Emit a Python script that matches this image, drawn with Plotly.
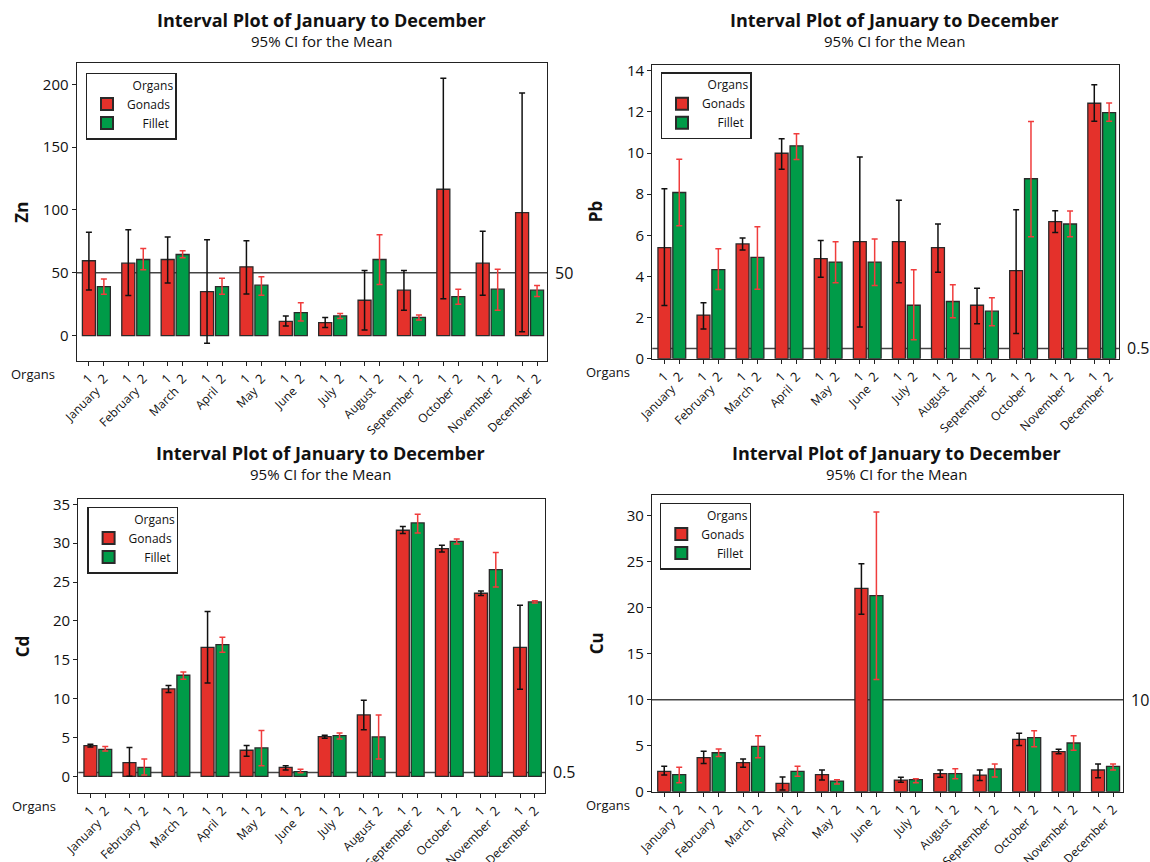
import plotly.graph_objects as go

# ---- data -----------------------------------------------------------------
months = ["January", "February", "March", "April", "May", "June", "July",
          "August", "September", "October", "November", "December"]
organs = ["Gonads", "Fillet"]

# Zn: means and 95% CI bounds
zn_gon = [59.6, 57.7, 60.6, 35.1, 54.8, 11.4, 10.4, 28.2, 36.2, 116.5, 57.7, 97.9]
zn_gon_hi = [82.2, 84.3, 78.5, 76.3, 75.5, 15.7, 14.4, 51.9, 51.9, 204.8, 83.0, 193.1]
zn_gon_lo = [36.4, 31.9, 42.0, -6.1, 33.2, 7.7, 6.6, 4.5, 20.2, 29.3, 32.2, 3.2]
zn_fil = [39.1, 60.6, 64.6, 39.1, 40.2, 18.4, 15.7, 60.6, 14.6, 31.1, 37.0, 36.2]
zn_fil_hi = [45.0, 69.4, 67.6, 45.7, 46.8, 26.3, 17.6, 80.3, 16.5, 37.0, 52.9, 39.9]
zn_fil_lo = [33.0, 52.4, 62.0, 33.0, 32.2, 11.7, 13.6, 40.7, 12.5, 25.0, 20.2, 31.1]

# Pb
pb_gon = [5.40, 2.12, 5.58, 9.99, 4.87, 5.69, 5.69, 5.40, 2.60, 4.28, 6.66, 12.42]
pb_gon_hi = [8.26, 2.72, 5.87, 10.70, 5.75, 9.81, 7.71, 6.55, 3.43, 7.24, 7.19, 13.32]
pb_gon_lo = [2.59, 1.45, 5.29, 9.21, 3.96, 1.54, 3.69, 4.20, 1.70, 1.23, 6.13, 11.54]
pb_fil = [8.08, 4.33, 4.93, 10.35, 4.70, 4.70, 2.60, 2.78, 2.31, 8.75, 6.55, 11.96]
pb_fil_hi = [9.70, 5.35, 6.42, 10.94, 5.69, 5.82, 4.33, 3.60, 2.96, 11.53, 7.18, 12.43]
pb_fil_lo = [6.47, 3.36, 3.38, 9.68, 3.69, 3.56, 0.92, 1.99, 1.60, 5.93, 5.93, 11.54]

# Cd
cd_gon = [3.95, 1.76, 11.24, 16.60, 3.35, 1.16, 5.10, 7.89, 31.66, 29.30, 23.55, 16.60]
cd_gon_hi = [4.12, 3.69, 11.67, 21.19, 3.95, 1.37, 5.28, 9.78, 32.13, 29.73, 23.85, 22.00]
cd_gon_lo = [3.78, 0.00, 10.77, 12.01, 2.57, 0.82, 4.89, 6.00, 31.23, 28.87, 23.25, 11.20]
cd_fil = [3.47, 1.16, 13.00, 16.95, 3.65, 0.60, 5.23, 5.06, 32.60, 30.24, 26.60, 22.44]
cd_fil_hi = [3.82, 2.23, 13.43, 17.89, 5.88, 0.90, 5.58, 7.89, 33.72, 30.54, 28.79, 22.60]
cd_fil_lo = [3.26, 0.17, 12.48, 15.96, 1.37, 0.47, 4.80, 2.23, 31.32, 29.90, 24.37, 22.30]

# Cu
cu_gon = [2.21, 3.70, 3.16, 0.91, 1.85, 22.13, 1.27, 1.96, 1.81, 5.69, 4.35, 2.36]
cu_gon_hi = [2.76, 4.39, 3.55, 1.60, 2.36, 24.81, 1.56, 2.36, 2.36, 6.35, 4.61, 3.01]
cu_gon_lo = [1.81, 3.08, 2.65, 0.18, 1.27, 19.30, 1.02, 1.56, 1.23, 5.04, 4.13, 1.52]
cu_fil = [1.85, 4.24, 4.93, 2.21, 1.16, 21.33, 1.31, 1.96, 2.47, 5.88, 5.30, 2.76]
cu_fil_hi = [2.65, 4.64, 6.09, 2.76, 1.31, 30.43, 1.41, 2.50, 3.01, 6.64, 6.09, 3.01]
cu_fil_lo = [0.98, 3.84, 3.70, 1.67, 0.83, 12.22, 0.98, 1.41, 1.60, 4.90, 4.50, 2.36]

# reference (limit) lines
zn_limit, pb_limit, cd_limit, cu_limit = 50, 0.5, 0.5, 10

# ---- styling --------------------------------------------------------------
W, H = 1150, 862
FONT = "Open Sans"
RED, GREEN = "#e4312b", "#009b48"
ERR_GON, ERR_FIL = "#111111", "#f03c3c"
GAP = 0.19  # half the distance between the two organ bars of a month


def px_x(p):
    return p / W


def px_y(p):
    return 1 - p / H


panels = [
    dict(name="Zn", gon=(zn_gon, zn_gon_lo, zn_gon_hi), fil=(zn_fil, zn_fil_lo, zn_fil_hi),
         limit=zn_limit, limit_text="50", yrange=[-19.9, 216.7], dtick=50,
         box=(76.7, 547.3, 63.3, 360.7), legend=(85.7, 72.7), title_y=20),
    dict(name="Pb", gon=(pb_gon, pb_gon_lo, pb_gon_hi), fil=(pb_fil, pb_fil_lo, pb_fil_hi),
         limit=pb_limit, limit_text="0.5", yrange=[0, 14.28], dtick=2,
         box=(652.3, 1119.3, 65.0, 358.7), legend=(660.7, 72.3), title_y=20),
    dict(name="Cd", gon=(cd_gon, cd_gon_lo, cd_gon_hi), fil=(cd_fil, cd_fil_lo, cd_fil_hi),
         limit=cd_limit, limit_text="0.5", yrange=[-2.15, 35.68], dtick=5,
         box=(78.3, 545.0, 499.0, 793.0), legend=(87.3, 506.7), title_y=453),
    dict(name="Cu", gon=(cu_gon, cu_gon_lo, cu_gon_hi), fil=(cu_fil, cu_fil_lo, cu_fil_hi),
         limit=cu_limit, limit_text="10", yrange=[0, 32.28], dtick=5,
         box=(652.0, 1123.3, 495.0, 791.7), legend=(660.0, 502.7), title_y=453),
]

xrange_ = [-0.5, 11.45]
month_idx = list(range(len(months)))
organ_ticks = [m + s for m in month_idx for s in (-GAP, GAP)]
organ_text = ["1", "2"] * len(months)

fig = go.Figure()
layout = dict(
    template="none",
    width=W, height=H, margin=dict(l=0, r=0, t=0, b=0, autoexpand=False),
    paper_bgcolor="white", plot_bgcolor="white",
    barmode="group", bargap=0.24, bargroupgap=0.13,
    font=dict(family=FONT, size=13, color="#111111"),
    showlegend=True,
)
annotations = []
shapes = []


def note(x, y, text, size, bold=False, xanchor="center", yref="paper", **kw):
    annotations.append(dict(
        x=x, xref="paper", y=y, yref=yref, xanchor=xanchor, yanchor="middle",
        text=f"<b>{text}</b>" if bold else text, showarrow=False,
        font=dict(family=FONT, size=size, color="#111"), **kw))


for i, p in enumerate(panels):
    k = i + 1
    xa = "x" if k == 1 else f"x{k}"
    ya = "y" if k == 1 else f"y{k}"
    xm = f"x{k + 4}"
    lg = "legend" if k == 1 else f"legend{k}"
    x0, x1, y0, y1 = p["box"]

    for organ, series, color, ecol in (("Gonads", p["gon"], RED, ERR_GON),
                                       ("Fillet", p["fil"], GREEN, ERR_FIL)):
        mean, lo, hi = series
        label = organ if organ == "Gonads" else "\u00a0" * 5 + organ
        fig.add_trace(go.Bar(
            x=month_idx, y=mean, name=label, xaxis=xa, yaxis=ya, legend=lg,
            marker=dict(color=color, line=dict(color="#2a2a2a", width=1.3)),
            error_y=dict(type="data", symmetric=False,
                         array=[h - m for h, m in zip(hi, mean)],
                         arrayminus=[m - l for m, l in zip(mean, lo)],
                         color=ecol, thickness=1.5, width=3),
        ))

    dom_x = [px_x(x0), px_x(x1)]
    dom_y = [px_y(y1), px_y(y0)]
    layout["xaxis" if k == 1 else f"xaxis{k}"] = dict(
        domain=dom_x, anchor=ya, range=xrange_, showgrid=False, zeroline=False,
        automargin=False,
        showline=True, linecolor="#222", linewidth=1.3, mirror=True,
        tickmode="array", tickvals=organ_ticks, ticktext=organ_text,
        tickangle=-45, ticks="outside", ticklen=4, tickcolor="#222",
        tickfont=dict(family=FONT, size=13, color="#111"),
    )
    layout[f"xaxis{k + 4}"] = dict(
        overlaying=xa, anchor=ya, range=xrange_, showgrid=False, zeroline=False,
        automargin=False,
        showline=False, tickmode="array", tickvals=month_idx, ticktext=months,
        tickangle=-45, ticks="", ticklabelstandoff=20,
        tickfont=dict(family=FONT, size=12, color="#111"),
    )
    layout["yaxis" if k == 1 else f"yaxis{k}"] = dict(
        domain=dom_y, anchor=xa, range=p["yrange"], showgrid=False, zeroline=False,
        automargin=False,
        showline=True, linecolor="#222", linewidth=1.3, mirror=True,
        dtick=p["dtick"], tick0=0, ticks="outside", ticklen=4, tickcolor="#222",
        tickfont=dict(family=FONT, size=15, color="#111"),
    )
    # month-axis needs a trace to be drawn
    fig.add_trace(go.Scatter(x=[xrange_[0]], y=[None], xaxis=xm, yaxis=ya,
                             showlegend=False, hoverinfo="skip", mode="markers"))

    lx, ly = p["legend"]
    layout[lg] = dict(
        x=px_x(lx), y=px_y(ly), xanchor="left", yanchor="top",
        bordercolor="#222", borderwidth=1.3, bgcolor="white",
        font=dict(family=FONT, size=12, color="#111"),
        title=dict(text="Organs", side="top right",
                   font=dict(family=FONT, size=12, color="#111")),
        itemsizing="constant", tracegroupgap=0, itemwidth=30,
    )

    # limit line under the bars, labelled outside the frame
    shapes.append(dict(type="line", xref=f"{xa} domain", yref=ya,
                       x0=0, x1=1, y0=p["limit"], y1=p["limit"],
                       line=dict(color="#444", width=1.5), layer="below"))
    note(dom_x[1], p["limit"], p["limit_text"], 16, xanchor="left", yref=ya, xshift=6)

    # axis title, "Organs" row label and panel titles
    note(px_x(x0 - 56), (dom_y[0] + dom_y[1]) / 2, p["name"], 17, bold=True, textangle=-90)
    note(px_x(x0 - 68), px_y(y1 + 13), "Organs", 13, xanchor="left")
    cx = px_x((x0 + x1) / 2 + 9)
    note(cx, px_y(p["title_y"]), "Interval Plot of January to December", 18, bold=True)
    note(cx, px_y(p["title_y"] + 21), "95% CI for the Mean", 15)

layout["annotations"] = annotations
layout["shapes"] = shapes
fig.update_layout(**layout)
fig.write_html("out.html")
